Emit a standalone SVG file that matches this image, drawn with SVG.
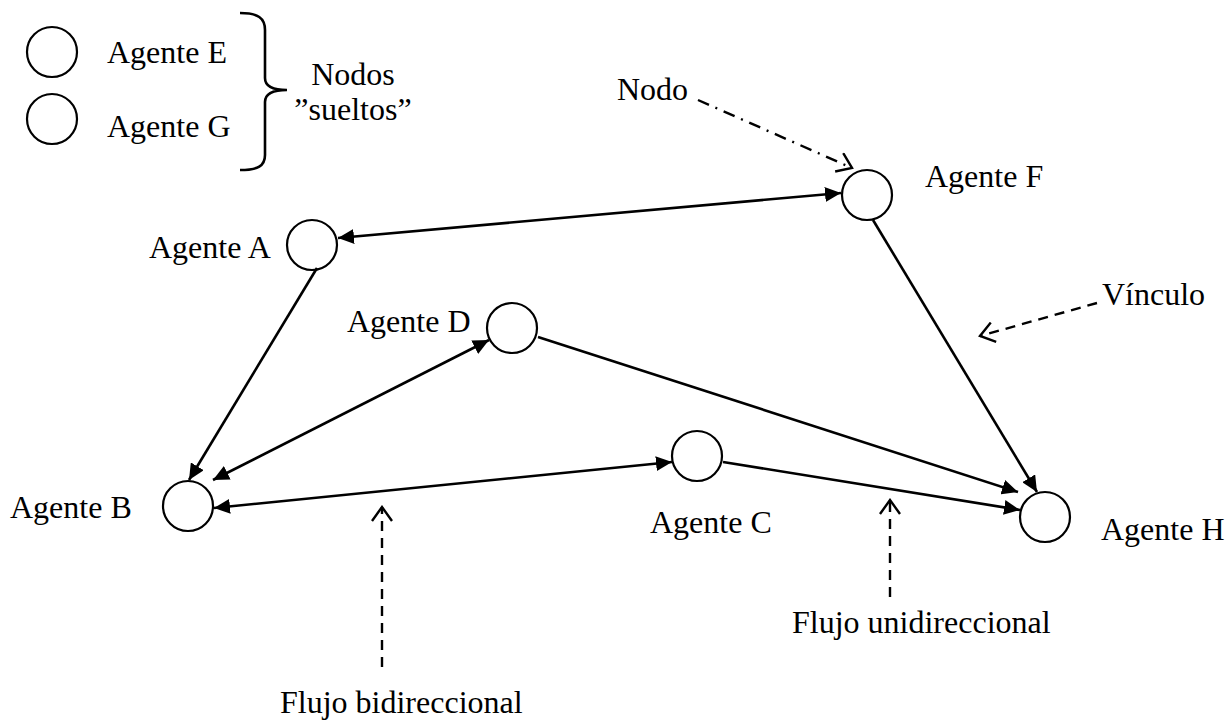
<svg xmlns="http://www.w3.org/2000/svg" width="1229" height="721" viewBox="0 0 1229 721" font-family="'Liberation Serif', 'Times New Roman', 'DejaVu Serif', serif">
  <style>
    .node { fill: #fff; stroke: #000; stroke-width: 2.2; }
    .lbl { font-family: 'Liberation Serif', 'Times New Roman', 'DejaVu Serif', serif; font-size: 32px; fill: #000; }
    .edge { stroke: #000; stroke-width: 2.6; fill: none; }
    .note { stroke: #000; stroke-width: 2.4; fill: none; stroke-dasharray: 10 7; }
    .notedot { stroke: #000; stroke-width: 2.4; fill: none; stroke-dasharray: 12 7 2 7; }
  </style>
  <defs>
    <marker id="arrow" viewBox="0 0 16 15" refX="16" refY="7.5" markerWidth="16" markerHeight="15" markerUnits="userSpaceOnUse" orient="auto-start-reverse">
      <path d="M0,0 L16,7.5 L0,15 z" fill="#000"/>
    </marker>
    <marker id="open" viewBox="0 0 17 22" refX="15" refY="11" markerWidth="17" markerHeight="22" markerUnits="userSpaceOnUse" orient="auto">
      <path d="M1,1 L15,11 L1,21" fill="none" stroke="#000" stroke-width="2.4"/>
    </marker>
  </defs>

  <rect width="1229" height="721" fill="#fff"/>

  <!-- loose nodes -->
  <g id="agente-e">
    <circle class="node" cx="52" cy="52" r="25"/>
    <text class="lbl" x="107" y="63">Agente E</text>
  </g>
  <g id="agente-g">
    <circle class="node" cx="52" cy="119" r="25"/>
    <text class="lbl" x="107" y="137">Agente G</text>
  </g>
  <g id="sueltos">
    <path class="edge" d="M240,13 C258,13 265,18 265,30 L265,78 C265,86 272,90 287,90 C272,90 265,94 265,102 L265,155 C265,166 258,170 240,170"/>
    <text class="lbl" x="353" y="85" text-anchor="middle">Nodos</text>
    <text class="lbl" x="353" y="120" text-anchor="middle">”sueltos”</text>
  </g>

  <!-- network nodes -->
  <g id="agente-a">
    <circle class="node" cx="312" cy="245" r="25"/>
    <text class="lbl" x="149" y="258">Agente A</text>
  </g>
  <g id="agente-b">
    <circle class="node" cx="188" cy="506" r="25"/>
    <text class="lbl" x="10" y="518">Agente B</text>
  </g>
  <g id="agente-c">
    <circle class="node" cx="697" cy="456" r="25"/>
    <text class="lbl" x="650" y="533">Agente C</text>
  </g>
  <g id="agente-d">
    <circle class="node" cx="512" cy="328" r="25"/>
    <text class="lbl" x="347" y="332">Agente D</text>
  </g>
  <g id="agente-f">
    <circle class="node" cx="867" cy="195" r="25"/>
    <text class="lbl" x="925" y="187">Agente F</text>
  </g>
  <g id="agente-h">
    <circle class="node" cx="1045" cy="517" r="25"/>
    <text class="lbl" x="1101" y="540">Agente H</text>
  </g>

  <!-- links between agents -->
  <g id="connectors">
    <line class="edge" x1="338" y1="238" x2="841" y2="193" marker-start="url(#arrow)" marker-end="url(#arrow)"/>
    <line class="edge" x1="317" y1="268" x2="189" y2="480" marker-end="url(#arrow)"/>
    <line class="edge" x1="489" y1="340" x2="213" y2="480" marker-start="url(#arrow)" marker-end="url(#arrow)"/>
    <line class="edge" x1="214" y1="508" x2="672" y2="462" marker-start="url(#arrow)" marker-end="url(#arrow)"/>
    <line class="edge" x1="723" y1="462" x2="1020" y2="510" marker-end="url(#arrow)"/>
    <line class="edge" x1="538" y1="337" x2="1018" y2="492" marker-end="url(#arrow)"/>
    <line class="edge" x1="873" y1="220" x2="1037" y2="492" marker-end="url(#arrow)"/>
  </g>

  <!-- annotations -->
  <g id="nota-nodo">
    <text class="lbl" x="617" y="100">Nodo</text>
    <line class="notedot" x1="698" y1="100" x2="852" y2="168" marker-end="url(#open)"/>
  </g>
  <g id="nota-vinculo">
    <text class="lbl" x="1102" y="305">Vínculo</text>
    <line class="note" x1="1097" y1="303" x2="980" y2="336" marker-end="url(#open)"/>
  </g>
  <g id="nota-bidireccional">
    <line class="note" x1="382" y1="667" x2="382" y2="507" marker-end="url(#open)"/>
    <text class="lbl" x="280" y="713">Flujo bidireccional</text>
  </g>
  <g id="nota-unidireccional">
    <line class="note" x1="890" y1="597" x2="890" y2="500" marker-end="url(#open)"/>
    <text class="lbl" x="792" y="633">Flujo unidireccional</text>
  </g>
</svg>
